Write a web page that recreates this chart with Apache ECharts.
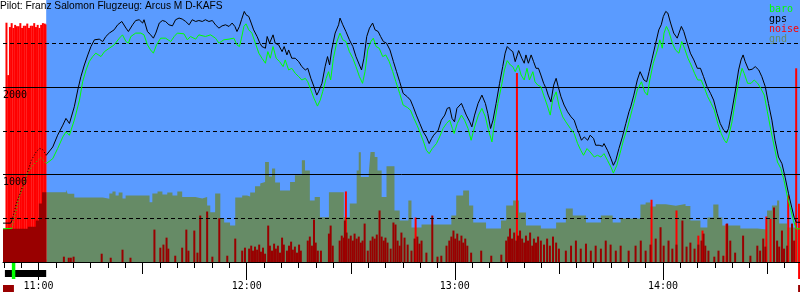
<!DOCTYPE html>
<html><head><meta charset="utf-8">
<script src="https://cdn.jsdelivr.net/npm/echarts@6/dist/echarts.min.js"></script>
<style>html,body{margin:0;padding:0;background:#fff}#c{width:800px;height:300px}</style>
</head><body><div id="c"></div>
<script>
// ---- texts / ticks ----
const titleText = 'Pilot: Franz Salomon Flugzeug: Arcus M D-KAFS';
const hourLabels = ['11:00', '12:00', '13:00', '14:00'];
const halfHourTicks = ['11:30', '12:30', '13:30', '14:30'];
const yLabels = [1000, 2000];
const solidLevels = [1000, 2000];
const dashedLevels = [500, 1500, 2500];
const legendNames = ['baro', 'gps', 'noise', 'gnd'];

// ---- times (minutes since midnight) ----
const timeMin = 649.75, timeMax = 879.5;
const takeoffTime = 652.3, engineOffTime = 662.2;
const enginePeriods = [[650.3, 662.2]];
const takeoffMarks = [[652.3, 653.3]];
const landingMarks = [[878.95, 879.5]];
const groundPeriods = [[649.75, 652.9], [878.95, 879.5]];
const noiseFloor = 30;

// ---- GPS altitude ----
const gpsT = [649.75,652.0,652.3,653.6,655.0,656.4,657.9,659.3,660.3,661.2,662.2,664.1,665.5,667.0,667.9,668.9,670.3,671.3,672.2,673.2,674.2,675.1,676.1,677.5,678.5,679.4,680.4,681.8,682.8,684.0,685.2,685.9,687.1,688.0,689.0,690.0,690.4,691.4,692.3,693.1,693.8,694.8,695.7,696.6,697.6,698.6,699.5,700.5,701.4,702.4,703.4,704.3,705.3,706.2,707.2,708.1,709.1,710.1,711.0,712.0,712.9,713.9,714.9,715.8,716.6,717.2,717.9,718.5,719.3,719.8,720.6,721.3,722.0,723.0,723.8,724.4,725.4,725.9,726.6,727.6,728.2,729.2,730.2,730.8,731.6,732.1,733.0,734.0,735.0,735.9,736.9,737.6,738.5,739.4,740.2,740.7,741.7,742.6,743.3,743.9,744.5,745.5,746.5,746.9,747.7,748.6,749.6,750.6,751.5,752.5,753.1,753.8,754.6,755.4,756.3,757.0,757.9,758.6,759.4,760.3,761.3,762.3,763.2,764.1,765.1,766.3,767.2,768.0,768.9,769.9,770.9,771.8,772.6,773.3,773.9,775.2,776.1,777.1,777.8,778.5,779.2,779.9,780.6,781.9,782.5,783.3,784.3,784.9,785.7,786.7,787.8,788.8,789.5,790.3,791.0,791.9,792.9,793.8,794.5,795.1,796.0,796.7,797.4,797.9,798.4,799.3,800.0,800.5,801.2,802.0,802.7,803.4,804.1,804.8,805.6,806.3,806.9,807.7,808.5,809.2,809.8,810.6,811.5,812.5,813.5,814.4,815.2,815.8,816.5,817.3,818.3,819.0,820.0,820.6,821.6,822.6,823.0,824.0,825.0,825.7,826.4,827.3,828.3,829.3,830.2,830.7,831.6,832.6,833.4,833.9,834.5,835.3,836.0,836.9,837.9,838.8,839.5,840.1,840.8,841.4,842.2,843.1,844.1,844.6,845.3,846.0,847.0,847.9,848.9,849.9,850.8,851.7,852.7,853.7,854.6,855.6,856.5,857.5,858.3,858.9,859.9,860.9,861.8,862.5,863.1,863.7,864.7,865.7,866.6,867.6,868.5,869.5,870.4,871.4,872.3,873.3,874.3,875.2,876.2,877.1,877.8,878.4,879.5];
const gpsAlt = [445,445,475,670,820,972,1164,1260,1300,1287,1222,1317,1452,1567,1644,1586,1777,1969,2122,2256,2371,2467,2544,2552,2524,2582,2621,2659,2716,2754,2678,2639,2716,2765,2774,2736,2774,2639,2601,2563,2621,2736,2765,2754,2716,2704,2774,2793,2782,2754,2716,2774,2754,2765,2754,2774,2754,2765,2716,2678,2704,2716,2697,2736,2697,2639,2697,2774,2869,2831,2811,2736,2658,2582,2506,2467,2448,2582,2506,2601,2506,2486,2409,2467,2371,2428,2333,2333,2294,2237,2199,2218,2103,2007,1911,1949,2046,2237,2352,2256,2428,2621,2716,2793,2716,2639,2544,2467,2352,2256,2199,2333,2582,2678,2736,2658,2639,2582,2524,2506,2428,2294,2179,2064,1931,1892,1854,1777,1682,1586,1490,1432,1356,1414,1452,1509,1624,1682,1759,1770,1644,1605,1759,1816,1759,1682,1605,1547,1682,1816,1911,1816,1701,1529,1624,1816,2046,2237,2391,2467,2429,2409,2294,2294,2421,2333,2276,2371,2276,2371,2294,2218,2218,2141,2046,1988,1911,1834,2026,2103,2007,1892,1797,1720,1662,1624,1529,1471,1394,1432,1394,1452,1414,1337,1337,1325,1356,1279,1184,1107,1164,1299,1432,1586,1720,1777,1911,2084,2179,2199,2084,2064,2179,2333,2506,2658,2716,2811,2869,2850,2736,2621,2563,2582,2697,2639,2506,2391,2314,2218,2218,2122,2007,1931,1854,1701,1586,1509,1478,1529,1739,1969,2199,2314,2371,2294,2199,2207,2237,2199,2122,2007,1816,1624,1394,1202,1126,972,782,628,513,455,455];

// ---- barometric altitude ----
const baroT = [649.75,652.3,653.1,654.1,655.5,656.9,658.4,659.8,660.7,662.2,664.1,665.5,667.0,667.9,668.9,670.3,671.8,672.7,673.7,674.6,675.6,676.5,678.0,679.0,680.4,681.8,683.3,684.2,685.2,685.9,686.6,688.0,689.5,690.4,691.4,692.3,693.1,694.0,695.2,696.6,698.1,699.1,700.0,701.9,702.9,703.8,705.3,706.2,708.1,709.6,711.0,712.0,713.4,714.9,716.3,717.2,717.9,718.5,719.2,719.8,720.6,721.5,722.5,723.5,724.4,725.4,726.1,726.8,727.6,728.5,729.5,730.5,731.1,732.1,733.0,734.0,735.0,735.9,736.9,737.6,738.5,739.4,740.4,741.2,741.9,742.9,743.6,744.2,745.0,746.0,746.9,747.7,748.6,749.6,750.6,751.5,752.5,753.4,754.1,754.9,755.8,756.5,757.3,758.2,759.2,760.1,761.1,762.1,763.0,764.1,765.1,766.3,767.2,768.2,769.1,770.1,771.0,771.8,772.6,773.5,774.7,775.6,776.6,777.6,778.5,779.3,779.8,780.7,781.9,782.8,783.8,784.7,785.7,786.8,787.8,788.8,789.7,790.7,791.4,792.4,793.4,794.3,795.1,796.0,796.7,797.4,798.3,799.1,800.0,800.8,801.5,802.5,803.1,803.9,804.8,805.6,806.6,807.5,808.2,809.2,810.1,811.1,812.0,813.3,814.4,815.4,816.3,817.1,818.1,819.0,820.2,821.1,822.1,823.0,824.0,825.0,825.7,826.7,827.6,828.6,829.7,830.7,831.6,832.6,833.8,834.7,835.5,836.2,837.2,838.4,839.1,839.8,840.3,841.0,841.7,842.7,843.6,844.6,845.4,846.2,847.2,848.1,849.1,850.0,851.0,852.0,852.9,853.9,854.8,855.8,856.8,857.7,858.3,858.9,859.9,860.9,861.8,862.8,863.4,864.4,865.4,866.3,867.3,868.2,869.2,870.1,871.1,872.1,873.0,874.0,874.9,875.9,876.9,877.6,878.4,879.5];
const baroAlt = [380,385,513,705,857,1030,1107,1164,1195,1126,1184,1299,1432,1490,1452,1624,1854,2064,2199,2294,2352,2391,2352,2409,2448,2486,2563,2601,2524,2506,2582,2621,2621,2601,2486,2428,2391,2486,2563,2563,2524,2582,2621,2613,2544,2582,2552,2601,2582,2601,2563,2506,2544,2552,2563,2486,2467,2563,2697,2727,2658,2621,2506,2391,2333,2276,2409,2333,2467,2333,2294,2237,2314,2199,2218,2161,2122,2084,2103,2064,1969,1874,1785,1854,1949,2103,2179,2084,2333,2524,2621,2544,2524,2409,2333,2237,2122,2046,2179,2428,2524,2563,2467,2448,2352,2371,2294,2179,2064,1931,1797,1770,1739,1644,1567,1471,1375,1279,1241,1299,1356,1432,1529,1586,1624,1529,1471,1586,1682,1624,1529,1394,1547,1682,1759,1662,1509,1375,1586,1816,2007,2199,2306,2256,2237,2179,2256,2141,2084,2218,2084,2179,2064,2026,2007,1911,1797,1682,1854,1949,1777,1662,1605,1529,1471,1356,1279,1222,1299,1260,1202,1222,1202,1241,1164,1087,1018,1107,1241,1394,1529,1682,1816,1969,2064,1949,1911,2084,2276,2428,2544,2448,2621,2697,2639,2506,2428,2391,2524,2448,2333,2256,2161,2084,2084,1988,1892,1816,1739,1586,1471,1394,1363,1432,1605,1854,2064,2218,2161,2046,2046,2084,2046,1988,1911,1720,1509,1317,1145,1069,934,743,590,475,380,380];

// ---- ground elevation ----
const gndT = [649.75,656.9,659.2,660.1,661.0,662.2,667.9,668.4,670.3,678.5,680.4,681.3,682.2,683.1,684.2,685.1,692.0,692.8,694.3,695.7,697.1,698.6,700.0,701.4,705.2,707.2,708.6,709.5,710.9,712.4,713.5,715.2,716.7,718.7,720.1,721.0,722.4,723.9,724.4,725.3,726.4,727.3,728.2,729.6,732.5,733.9,735.9,736.8,738.2,739.6,741.1,743.7,748.0,749.7,751.7,752.3,752.9,755.2,755.7,756.9,757.7,758.9,760.3,762.6,764.1,766.6,767.5,770.4,774.1,779.0,780.4,782.4,784.1,785.3,789.0,793.3,794.8,796.8,798.5,800.5,804.8,809.2,812.0,814.0,817.8,822.1,825.5,827.8,833.5,835.0,836.4,837.9,840.8,843.7,846.5,847.9,850.8,852.8,854.5,856.0,857.1,862.3,867.2,870.0,871.4,872.9,873.5,875.8,878.4,879.5];
const gndAlt = [380,405,475,670,800,800,828,782,739,724,785,808,762,797,728,762,685,785,808,774,797,762,808,743,728,743,647,570,785,498,452,417,739,762,751,797,866,900,915,1145,980,1072,911,820,915,992,1164,1049,705,743,513,800,513,670,1049,1256,972,1026,1260,1202,1049,743,1095,590,475,705,394,429,429,532,762,820,647,452,383,475,647,705,567,417,383,452,613,532,452,532,452,498,659,682,636,660,645,665,640,475,394,509,659,509,417,383,371,590,647,705,440,394,380,380];

// ---- noise (dark red) ----
const noiseT = [667.3,668.7,669.3,670.1,678.2,680.8,684.2,686.5,693.4,695.1,696.0,696.9,697.4,699.4,701.4,702.6,703.2,704.9,705.8,706.6,708.6,710.1,712.1,714.4,716.7,718.7,719.5,720.7,721.3,721.8,722.4,723.0,723.6,724.1,724.7,725.3,726.2,726.7,727.3,727.9,728.4,729.0,729.6,730.2,730.7,731.6,732.2,732.8,733.3,733.9,734.5,735.1,735.6,737.6,738.2,738.8,739.4,739.9,740.5,741.4,743.7,744.2,744.8,746.8,747.4,748.0,748.3,748.8,749.4,750.0,750.6,751.1,751.7,752.3,752.9,753.4,754.0,754.9,755.7,756.3,756.9,757.5,758.3,758.9,759.5,760.0,760.6,761.5,762.3,762.9,763.5,764.1,764.6,765.5,766.4,767.5,768.4,769.2,769.8,770.4,771.8,773.5,775.0,776.1,777.6,778.4,779.0,779.6,780.1,780.7,781.3,781.9,782.4,783.0,783.6,784.7,787.6,790.5,793.4,794.8,795.4,795.9,796.5,797.1,797.7,798.2,798.8,799.4,800.0,800.5,801.1,801.7,802.3,802.8,803.4,804.0,804.8,805.7,806.6,807.4,808.3,809.2,810.0,812.0,813.5,814.9,816.3,817.8,819.2,820.6,822.1,823.5,824.9,826.4,827.8,830.1,832.1,833.6,835.0,836.4,837.9,839.3,840.2,841.6,842.7,843.9,845.6,846.8,847.9,849.1,850.2,851.1,851.7,852.2,853.1,854.8,856.0,857.4,858.5,859.4,860.8,863.1,865.2,867.2,868.0,868.9,869.5,872.0,872.9,873.5,874.3,874.9,875.8,877.2,877.8];
const noiseV = [61,49,49,61,95,49,141,49,371,164,199,279,153,72,164,371,130,360,107,532,578,61,501,72,268,130,164,153,187,130,176,141,199,118,164,95,417,187,130,210,153,187,107,279,199,130,187,233,141,176,107,199,130,245,291,187,486,222,130,130,325,417,187,245,302,279,475,337,268,302,245,325,268,291,222,245,440,130,245,291,268,314,590,291,245,279,222,153,452,429,245,187,337,279,199,130,268,291,210,245,107,532,61,72,187,245,291,360,268,325,245,302,222,268,187,107,130,72,84,245,291,383,268,337,245,302,360,268,222,302,245,337,187,268,222,291,245,199,268,187,291,222,153,130,187,245,153,210,130,187,153,245,199,130,187,130,187,245,130,199,268,398,187,245,153,199,475,176,222,153,199,245,325,187,130,61,130,72,440,245,107,302,72,187,130,268,176,624,245,176,360,153,187,440,245];

// ---- noise (bright red: engine run and spikes) ----
const noiseHighT = [650.75,651.25,651.75,652.25,652.75,653.25,653.75,654.25,654.75,655.25,655.75,656.25,656.75,657.25,657.75,658.25,658.75,659.25,659.75,660.25,660.75,661.25,661.75,662.0,748.6,768.7,797.9,836.7,843.9,850.2,851.4,858.3,869.8,871.0,876.1,878.4,879.2];
const noiseHighV = [2740,2140,2690,2735,2680,2715,2700,2700,2735,2680,2705,2705,2730,2680,2705,2705,2735,2690,2715,2680,2715,2735,2730,2720,808,509,2164,713,590,302,360,437,521,494,762,2218,667];

// ---- helpers ----
const toMin = s => { const p = s.split(':'); return +p[0] * 60 + +p[1]; };
const fmt = m => { const h = Math.floor(m / 60), mm = Math.round(m - h * 60); return h + ':' + String(mm).padStart(2, '0'); };
const pairs = (T, V, a, b) => { const o = []; for (let i = 0; i < T.length; i++) if (T[i] >= a && T[i] <= b) o.push([T[i], V[i]]); return o; };
const fiveMin = []; for (let m = Math.ceil(timeMin / 5) * 5; m <= timeMax; m += 5) fiveMin.push(m);

const MONO = 'DejaVu Sans Mono';
const BLUE = '#5a9bff', GND = '#668b66', DRED = '#990000', RED = '#ff0000', GREEN = '#00ff00';

const annoStyle = [
  { dy: 8, h: 7, color: '#000000' },   // engine run
  { dy: 0, h: 17, color: GREEN },      // takeoff
  { dy: 0, h: 17, color: RED },        // landing
  { dy: 23, h: 7, color: DRED }        // on ground
];
const annoData = [].concat(
  enginePeriods.map(p => [p[0], p[1], 0]),
  groundPeriods.map(p => [p[0], p[1], 3]),
  takeoffMarks.map(p => [p[0], p[1], 1]),
  landingMarks.map(p => [p[0], p[1], 2])
);

const lineBase = { type: 'line', symbol: 'none', showSymbol: false, animation: false, silent: true };

const chart = echarts.init(document.getElementById('c'), null, { renderer: 'canvas' });
chart.setOption({
  animation: false,
  title: { text: titleText, left: 0, top: 0, padding: [1, 0, 0, 0], z: 20,
    textStyle: { fontFamily: 'Liberation Sans', fontSize: 10.2, fontWeight: 'normal', color: '#000' } },
  legend: {
    orient: 'vertical', left: 759, top: -1, itemGap: 0, itemWidth: 0, itemHeight: 10, icon: 'none',
    selectedMode: false, z: 20,
    textStyle: { fontFamily: MONO, fontSize: 10 },
    data: [
      { name: legendNames[0], textStyle: { color: GREEN } },
      { name: legendNames[1], textStyle: { color: '#000' } },
      { name: legendNames[2], textStyle: { color: RED } },
      { name: legendNames[3], textStyle: { color: GND } }
    ]
  },
  grid: { left: 0, right: 0, top: 0, bottom: 38 },
  xAxis: [
    { type: 'value', min: timeMin, max: timeMax, position: 'bottom', z: 20,
      axisLine: { show: true, lineStyle: { color: '#000', width: 1 } },
      axisTick: { show: true, customValues: hourLabels.map(toMin), length: 18, lineStyle: { color: '#000' } },
      axisLabel: { show: true, customValues: hourLabels.map(toMin), formatter: v => fmt(v), margin: 19,
        fontFamily: MONO, fontSize: 10, color: '#000' },
      splitLine: { show: false } },
    { type: 'value', min: timeMin, max: timeMax, position: 'bottom', axisLine: { show: false }, z: 20,
      axisTick: { show: true, customValues: halfHourTicks.map(toMin), length: 12, lineStyle: { color: '#000' } },
      axisLabel: { show: false }, splitLine: { show: false } },
    { type: 'value', min: timeMin, max: timeMax, position: 'bottom', axisLine: { show: false }, z: 20,
      axisTick: { show: true, customValues: fiveMin, length: 6, lineStyle: { color: '#000' } },
      axisLabel: { show: false }, splitLine: { show: false } }
  ],
  yAxis: { type: 'value', min: 0, max: 3000, z: 20, axisLine: { show: false }, axisTick: { show: false },
    splitLine: { show: false },
    axisLabel: { inside: true, customValues: yLabels, margin: 0, verticalAlign: 'top', align: 'left',
      formatter: v => String(v),
      padding: [3, 0, 0, 0], fontFamily: MONO, fontSize: 10, color: '#000' } },
  series: [
    Object.assign({}, lineBase, { name: 'bg', z: 0, data: [[timeMin, 0]], lineStyle: { opacity: 0 },
      markArea: { silent: true, itemStyle: { color: BLUE, opacity: 1 },
        data: [[{ xAxis: engineOffTime }, { xAxis: timeMax }]] } }),
    Object.assign({}, lineBase, { name: 'gnd', z: 1, step: 'end', color: GND,
      data: pairs(gndT, gndAlt, engineOffTime, timeMax), lineStyle: { width: 0 },
      areaStyle: { color: GND, opacity: 1 } }),
    { type: 'bar', name: 'noise-high', z: 2, barWidth: 2, barGap: '-100%', silent: true,
      itemStyle: { color: RED }, data: noiseHighT.map((t, i) => [t, noiseHighV[i]]) },
    Object.assign({}, lineBase, { name: 'gnd-engine', z: 3, step: 'end', color: DRED,
      data: pairs(gndT, gndAlt, timeMin, engineOffTime), lineStyle: { width: 0 },
      areaStyle: { color: DRED, opacity: 1 } }),
    { type: 'bar', name: 'noise', z: 3, barWidth: 2, barGap: '-100%', silent: true, color: RED,
      itemStyle: { color: DRED }, data: noiseT.map((t, i) => [t, noiseV[i]]),
      markArea: { silent: true, itemStyle: { color: DRED, opacity: 1 },
        data: [[{ xAxis: engineOffTime, yAxis: 0 }, { xAxis: landingMarks[0][0], yAxis: noiseFloor }]] } },
    Object.assign({}, lineBase, { name: 'levels', z: 4, data: [[timeMin, 0]], lineStyle: { opacity: 0 },
      markLine: { silent: true, symbol: 'none', label: { show: false }, animation: false,
        data: [].concat(
          solidLevels.map(v => ({ yAxis: v, lineStyle: { color: '#000', width: 1, type: 'solid' } })),
          dashedLevels.map(v => ({ yAxis: v, lineStyle: { color: '#000', width: 1, type: [4, 3] } }))
        ) } }),
    Object.assign({}, lineBase, { name: 'baro', z: 5, color: GREEN, data: pairs(baroT, baroAlt, engineOffTime, timeMax),
      lineStyle: { color: GREEN, width: 1 } }),
    Object.assign({}, lineBase, { name: 'baro-pre', z: 5, data: pairs(baroT, baroAlt, timeMin, takeoffTime),
      lineStyle: { color: GREEN, width: 1 } }),
    Object.assign({}, lineBase, { name: 'baro-engine', z: 5, data: pairs(baroT, baroAlt, takeoffTime, engineOffTime),
      lineStyle: { color: GREEN, width: 1, type: [1, 2] } }),
    Object.assign({}, lineBase, { name: 'gps', z: 6, color: '#000', data: pairs(gpsT, gpsAlt, engineOffTime, timeMax),
      lineStyle: { color: '#000', width: 1 } }),
    Object.assign({}, lineBase, { name: 'gps-pre', z: 6, data: pairs(gpsT, gpsAlt, timeMin, takeoffTime),
      lineStyle: { color: '#000', width: 1 } }),
    Object.assign({}, lineBase, { name: 'gps-engine', z: 6, data: pairs(gpsT, gpsAlt, takeoffTime, engineOffTime),
      lineStyle: { color: '#000', width: 1, type: [1, 2] } }),
    { type: 'custom', name: 'events', z: 7, clip: false, silent: true, data: annoData,
      encode: { x: [0, 1], y: 2 },
      renderItem: function (params, api) {
        const t0 = api.value(0), t1 = api.value(1), k = api.value(2);
        const p0 = api.coord([t0, 0]), p1 = api.coord([t1, 0]);
        const st = annoStyle[k];
        return { type: 'rect', shape: { x: p0[0], y: p0[1] + st.dy, width: Math.max(p1[0] - p0[0], 1), height: st.h },
          style: { fill: st.color } };
      } }
  ]
});
</script>
</body></html>
